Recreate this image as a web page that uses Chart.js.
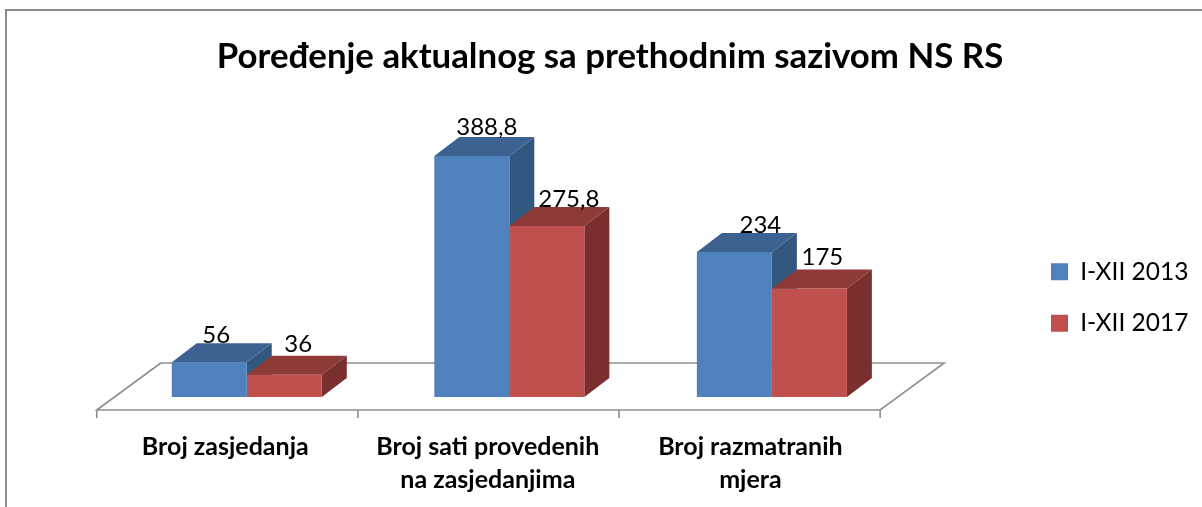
<!DOCTYPE html>
<html><head><meta charset="utf-8">
<script src="https://cdn.jsdelivr.net/npm/chart.js@4"></script>
<style>html,body{margin:0;padding:0;background:#fff}canvas{display:block}</style>
</head><body><canvas id="c" width="1202" height="507"></canvas>
<script>
const categories = [["Broj zasjedanja"], ["Broj sati provedenih", "na zasjedanjima"], ["Broj razmatranih", "mjera"]];
const seriesNames = ["I-XII 2013", "I-XII 2017"];
const values2013 = [56, 388.8, 234];
const values2017 = [36, 275.8, 175];
const chartTitle = "Poređenje aktualnog sa prethodnim sazivom NS RS";

const FONT = "Lato, Carlito, sans-serif";
const DEPTH = {x: 25, y: 19};
const FACES = [{top: "#3D6291", side: "#33587F"}, {top: "#8E3A38", side: "#7A2F2E"}];
const LABEL_SHIFT = [[[7,-27],[15,-29],[26,-27]], [[14,-30],[22,-27],[13,-31]]];
const LEGEND_PAD = 27;

const floor3d = {
  id: "floor3d",
  afterLayout(chart) {
    const l = chart.legend, w = l.right - l.left, h = l.bottom - l.top;
    l.left = 1051 - LEGEND_PAD; l.right = l.left + w;
    l.top += 44; l.bottom = l.top + h;
  },
  beforeDraw(chart) {
    const c = chart.ctx;
    c.save();
    c.strokeStyle = "#8C8C8C"; c.lineWidth = 2;
    c.beginPath(); c.moveTo(6, 507); c.lineTo(6, 10); c.lineTo(1202, 10); c.stroke();
    c.restore();
  },
  beforeDatasetsDraw(chart) {
    const c = chart.ctx, a = chart.chartArea;
    const fy = a.bottom + 13, by = a.bottom - 34;
    const x0 = a.left - 18.75, x3 = a.right - 23, dx = 64;
    c.save();
    c.strokeStyle = "#8E8E8E"; c.lineWidth = 1.6;
    c.beginPath();
    c.moveTo(x0 + dx, by); c.lineTo(x0, fy); c.lineTo(x3, fy); c.lineTo(x3 + dx, by); c.lineTo(x0 + dx, by);
    for (let i = 0; i <= categories.length; i++) {
      const t = x0 + (x3 - x0) * i / categories.length;
      c.moveTo(t, fy); c.lineTo(t, fy + 8);
    }
    c.stroke();
    chart.data.datasets.forEach((d, di) => {
      chart.getDatasetMeta(di).data.forEach(b => {
        const p = b.getProps(["x", "y", "base", "width"], true);
        const l = p.x - p.width / 2, r = p.x + p.width / 2;
        c.fillStyle = FACES[di].top;
        c.beginPath(); c.moveTo(l, p.y); c.lineTo(l + DEPTH.x, p.y - DEPTH.y); c.lineTo(r + DEPTH.x, p.y - DEPTH.y); c.lineTo(r, p.y); c.closePath(); c.fill();
        c.fillStyle = FACES[di].side;
        c.beginPath(); c.moveTo(r, p.y); c.lineTo(r + DEPTH.x, p.y - DEPTH.y); c.lineTo(r + DEPTH.x, p.base - DEPTH.y); c.lineTo(r, p.base); c.closePath(); c.fill();
      });
    });
    c.restore();
  },
  afterDatasetsDraw(chart) {
    const c = chart.ctx;
    c.save();
    c.fillStyle = "#000"; c.font = "24px " + FONT; c.textAlign = "center"; c.textBaseline = "middle";
    chart.data.datasets.forEach((d, di) => {
      chart.getDatasetMeta(di).data.forEach((b, i) => {
        const s = LABEL_SHIFT[di][i];
        c.fillText(String(d.data[i]).replace(".", ","), b.x + s[0], b.y + s[1]);
      });
    });
    c.restore();
  }
};

new Chart(document.getElementById("c"), {
  type: "bar",
  data: {
    labels: categories,
    datasets: [
      {label: seriesNames[0], data: values2013, backgroundColor: "#4F81BD"},
      {label: seriesNames[1], data: values2017, backgroundColor: "#C0504D"}
    ]
  },
  options: {
    responsive: false, animation: false, devicePixelRatio: 1,
    layout: {padding: {left: 18, right: 0, top: 0, bottom: 0}},
    datasets: {bar: {categoryPercentage: 0.5714, barPercentage: 1, borderWidth: 0}},
    plugins: {
      tooltip: {enabled: false},
      title: {display: true, text: chartTitle, color: "#000",
        font: {family: FONT, size: 34.8, weight: "bold", lineHeight: 1.2},
        padding: {top: 36, bottom: 9.24}},
      legend: {position: "right", align: "center",
        labels: {boxWidth: 17, boxHeight: 17, padding: LEGEND_PAD, color: "#000", font: {family: FONT, size: 24.5}}}
    },
    scales: {
      x: {
        grid: {display: false}, border: {display: false},
        afterFit(s) { s.height = 110; },
        ticks: {color: "#000", font: {family: FONT, size: 25, weight: "bold", lineHeight: 1.32}, padding: 25, labelOffset: -21.5, maxRotation: 0, autoSkip: false}
      },
      y: {
        position: "left", min: 0, max: 500,
        grid: {display: false}, border: {display: false},
        ticks: {display: false},
        afterFit(s) { s.width = 97.5; }
      },
      spacer: {
        position: "right", min: 0, max: 500,
        grid: {display: false}, border: {display: false},
        ticks: {display: false},
        afterFit(s) { s.width = 124.5; }
      }
    }
  },
  plugins: [floor3d]
});
</script></body></html>
